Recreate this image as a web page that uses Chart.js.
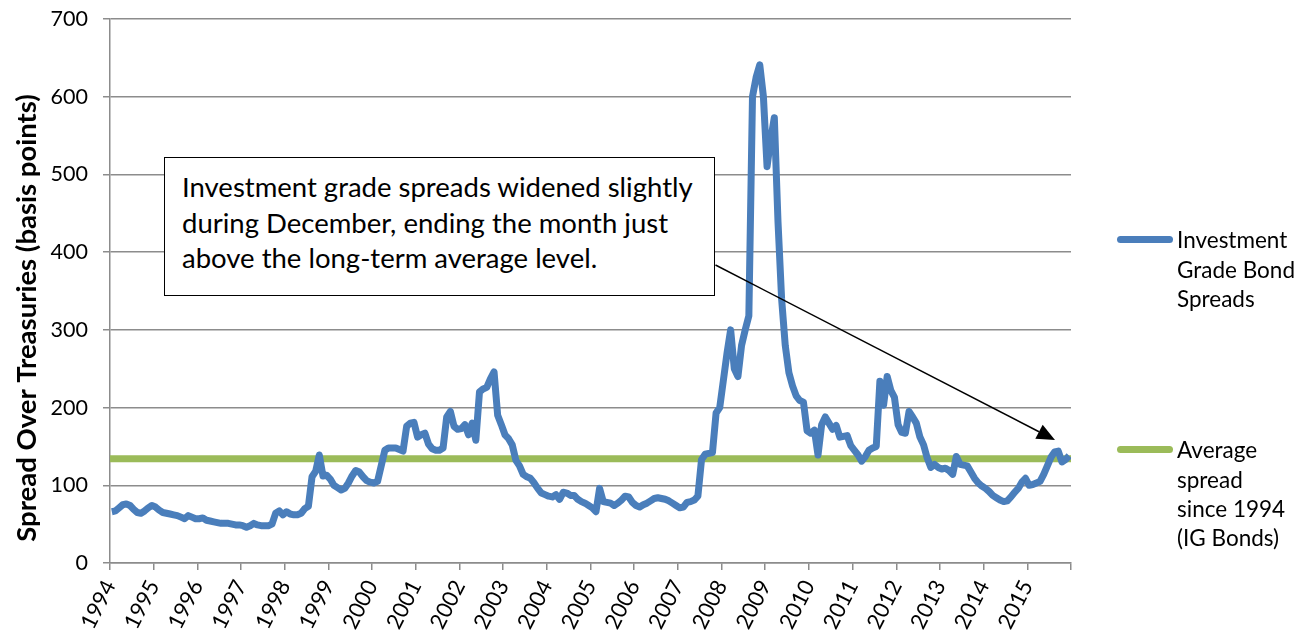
<!DOCTYPE html>
<html>
<head>
<meta charset="utf-8">
<script src="https://cdn.jsdelivr.net/npm/chart.js@4.4.1/dist/chart.umd.min.js"></script>
<style>
  html, body { margin: 0; padding: 0; background: #ffffff; }
  #wrap { position: relative; width: 1306px; height: 644px; overflow: hidden; font-family: Lato, "Open Sans", sans-serif; }
  #chart { position: absolute; left: 0; top: 0; }
  #note {
    position: absolute; left: 164px; top: 157px; width: 551px; height: 139px;
    box-sizing: border-box; border: 1.5px solid #000; background: #fff;
    padding: 11px 0 0 17px; font-size: 27.5px; line-height: 35.5px; color: #000;
  }
  #arrow { position: absolute; left: 0; top: 0; pointer-events: none; }
  .leg { position: absolute; left: 1117px; font-size: 22.5px; line-height: 29.2px; color: #000; }
  .leg .sw { position: absolute; left: 0; width: 56px; height: 7px; border-radius: 4px; }
  .leg .tx { position: absolute; left: 60px; top: 0; white-space: nowrap; }
</style>
</head>
<body>
<div id="wrap">
  <canvas id="chart" width="1306" height="644"></canvas>
  <div id="note"></div>
  <svg id="arrow" width="1306" height="644"></svg>
  <div id="legend"></div>
</div>
<script>
// ---------------- data ----------------
const startYear = 1994;
const yearLabels = ['1994','1995','1996','1997','1998','1999','2000','2001','2002','2003','2004',
                    '2005','2006','2007','2008','2009','2010','2011','2012','2013','2014','2015'];
// Monthly investment grade spreads over Treasuries (basis points), Jan 1994 - Dec 2015
const spreads = [
  66, 67, 71, 75, 76, 74, 69, 65, 64, 67, 71, 74,          // 1994
  72, 68, 65, 64, 63, 62, 61, 59, 57, 61, 59, 57,          // 1995
  57, 58, 55, 54, 53, 52, 51, 51, 51, 50, 49, 49,          // 1996
  48, 46, 48, 51, 49, 48, 48, 48, 50, 64, 67, 62,          // 1997
  66, 63, 62, 62, 64, 70, 73, 111, 118, 139, 112, 113,     // 1998
  108, 100, 97, 94, 96, 103, 112, 119, 117, 111, 106, 104, // 1999
  103, 105, 125, 145, 148, 148, 148, 146, 144, 176, 180, 181, // 2000
  162, 165, 167, 153, 147, 145, 145, 148, 188, 195, 176, 172, // 2001
  173, 178, 165, 180, 158, 220, 224, 226, 237, 246, 190, 178, // 2002
  165, 160, 152, 132, 125, 114, 111, 109, 103, 96, 90, 88,    // 2003
  86, 85, 88, 82, 91, 90, 87, 87, 82, 79, 77, 74,             // 2004
  71, 66, 96, 79, 78, 77, 74, 77, 81, 86, 85, 78,             // 2005
  74, 72, 75, 77, 80, 83, 84, 83, 82, 80, 77, 74,             // 2006
  71, 72, 78, 79, 81, 86, 133, 140, 141, 142, 193, 200,       // 2007
  235, 270, 300, 250, 240, 280, 300, 318, 600, 625, 641, 600, // 2008
  510, 545, 573, 440, 340, 280, 245, 228, 215, 209, 207, 170, // 2009
  167, 171, 139, 178, 188, 180, 172, 177, 162, 163, 164, 151, // 2010
  145, 139, 131, 137, 145, 148, 150, 234, 203, 240, 222, 213, // 2011
  178, 168, 167, 195, 188, 180, 162, 152, 135, 123, 127, 123, // 2012
  121, 122, 119, 114, 137, 127, 126, 125, 117, 109, 103, 99,  // 2013
  96, 92, 87, 84, 81, 79, 80, 85, 91, 96, 104, 109,           // 2014
  100, 101, 103, 105, 114, 125, 136, 143, 144, 130, 133, 138  // 2015
];
const averageSpread = 134; // long-term average since 1994
const seriesNames = ['Investment Grade Bond Spreads', 'Average spread since 1994 (IG Bonds)'];
const legendLines = [['Investment', 'Grade Bond', 'Spreads'], ['Average', 'spread', 'since 1994', '(IG Bonds)']];
const noteLines = ['Investment grade spreads widened slightly', 'during December, ending the month just', 'above the long-term average level.'];
const yTitle = 'Spread Over Treasuries (basis points)';

// ---------------- build ----------------
const endYear = startYear + spreads.length / 12;
const spreadPoints = spreads.map((v, i) => ({ x: startYear + (i + 0.5) / 12, y: v }));
const averagePoints = [{ x: startYear, y: averageSpread }, { x: endYear, y: averageSpread }];
const blue = '#4A7EBB', green = '#9BBB59', gridGray = '#8C8C8C';

// y-axis title, drawn centred where the reference places it
const yTitlePlugin = {
  id: 'yTitle',
  afterDraw(c) {
    const g = c.ctx;
    g.save();
    g.translate(27, 318);
    g.rotate(-Math.PI / 2);
    g.font = 'bold 27.5px Lato';
    g.fillStyle = '#000';
    g.textAlign = 'center';
    g.textBaseline = 'middle';
    g.fillText(yTitle, 0, 0);
    g.restore();
  }
};

const ctx = document.getElementById('chart').getContext('2d');
const chart = new Chart(ctx, {
  type: 'line',
  data: {
    datasets: [
      { label: seriesNames[0], data: spreadPoints, borderColor: blue, backgroundColor: blue,
        borderWidth: 7, pointRadius: 0, tension: 0, borderJoinStyle: 'round', borderCapStyle: 'butt', order: 0 },
      { label: seriesNames[1], data: averagePoints, borderColor: green, backgroundColor: green,
        borderWidth: 7, pointRadius: 0, tension: 0, order: 1 }
    ]
  },
  plugins: [yTitlePlugin],
  options: {
    responsive: false, animation: false, devicePixelRatio: 1,
    layout: { padding: { top: 19, right: 235, left: 0, bottom: 0 } },
    plugins: { legend: { display: false }, tooltip: { enabled: false } },
    scales: {
      x: {
        type: 'linear', min: startYear, max: endYear,
        afterBuildTicks: (s) => {
          const t = [];
          for (let y = startYear; y <= endYear; y++) t.push({ value: y });
          s.ticks = t;
        },
        ticks: {
          autoSkip: false, minRotation: 63, maxRotation: 63, padding: 6,
          color: '#000', font: { family: 'Lato', size: 22 },
          callback: (v) => yearLabels.includes(String(v)) ? String(v) : ''
        },
        grid: { drawOnChartArea: false, drawTicks: true, tickLength: 7, color: gridGray, lineWidth: 1.5 },
        border: { color: gridGray, width: 1.5 },
        afterFit: (s) => { s.height = 81; s.paddingLeft = 0; s.paddingRight = 0; }
      },
      y: {
        min: 0, max: 700,
        ticks: { stepSize: 100, padding: 15, color: '#000', font: { family: 'Lato', size: 21.5 } },
        grid: { color: gridGray, lineWidth: 1.5, tickLength: 7 },
        border: { color: gridGray, width: 1.5 },
        title: { display: false, text: yTitle },
        afterFit: (s) => { s.width = 110; s.paddingTop = 0; s.paddingBottom = 0; }
      }
    }
  }
});

// annotation box text
document.getElementById('note').innerHTML = noteLines.map(l => '<div>' + l + '</div>').join('');

// arrow from box to the latest reading
(function () {
  const svg = document.getElementById('arrow');
  const x1 = 715.5, y1 = 265, x2 = 1055, y2 = 440;
  const ang = Math.atan2(y2 - y1, x2 - x1), L = 18, W = 8;
  const bx = x2 - L * Math.cos(ang), by = y2 - L * Math.sin(ang);
  const px = -Math.sin(ang) * W, py = Math.cos(ang) * W;
  svg.innerHTML =
    '<line x1="' + x1 + '" y1="' + y1 + '" x2="' + bx + '" y2="' + by + '" stroke="#000" stroke-width="1.5"/>' +
    '<polygon points="' + x2 + ',' + y2 + ' ' + (bx + px) + ',' + (by + py) + ' ' + (bx - px) + ',' + (by - py) + '" fill="#000"/>';
})();

// legend
(function () {
  const leg = document.getElementById('legend');
  const tops = [240, 450];
  const cols = [blue, green];
  leg.innerHTML = legendLines.map((lines, k) =>
    '<div class="leg" style="top:' + (tops[k] - 14.6) + 'px">' +
      '<div class="sw" style="top:11px;background:' + cols[k] + '"></div>' +
      '<div class="tx">' + lines.join('<br>') + '</div>' +
    '</div>').join('');
})();
</script>
</body>
</html>
